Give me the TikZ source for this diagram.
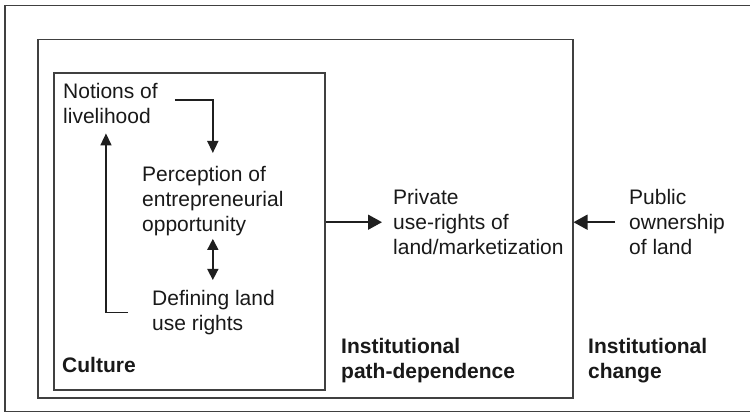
\documentclass[tikz,border=0pt]{standalone}
\usepackage{fontspec}
\setmainfont{Liberation Sans}
\usetikzlibrary{arrows.meta,calc}
\begin{document}
\begin{tikzpicture}[x=1pt,y=-1pt,
  txt/.style={anchor=north west, inner sep=0pt, align=left, text=black!90,
              font=\fontsize{21}{25}\selectfont},
  lbl/.style={txt, font=\fontsize{21}{25}\selectfont\bfseries},
  frame/.style={draw=black!75, line width=1.8pt},
  boxnode/.style={frame, inner sep=0pt, anchor=north west},
  link/.style={draw=black!88, line width=1.5pt},
  tip/.style={-{Triangle[length=12pt,width=11pt]}},
  bothtips/.style={{Triangle[length=11pt,width=11pt]}-{Triangle[length=11pt,width=11pt]}},
  bigtip/.style={-{Triangle[length=14pt,width=15pt]}},
]
\useasboundingbox (0,0) rectangle (750,414);
\fill[white] (0,0) rectangle (750,414);

% outer frame (open to the right)
\draw[frame] (750,5.5) -- (5,5.5) -- (5,411.5) -- (750,411.5);

% nested boxes
\node[boxnode, minimum width=535pt, minimum height=358pt] (pathbox) at (36.7,38.7) {};
\node[boxnode, minimum width=270.7pt, minimum height=317pt] (inner) at (53.3,72) {};

% texts
\node[txt] (notions) at (63,80.5) {\strut Notions of\\livelihood\strut};
\node[txt] (perc) at (142,163.5) {\strut Perception of\\entrepreneurial\\opportunity\strut};
\node[txt] (def) at (152,287.5) {\strut Defining land\\use rights\strut};
\node[lbl] (culture) at (62,354.5) {\strut Culture\strut};
\node[txt] (private) at (393,186.5) {\strut Private\\use-rights of\\land/marketization\strut};
\node[txt] (pub) at (629,186.5) {\strut Public\\ownership\\of land\strut};
\node[lbl] (pathlbl) at (341,335.5) {\strut Institutional\\path-dependence\strut};
\node[lbl] (changelbl) at (588,335.5) {\strut Institutional\\change\strut};

% connectors inside the culture box
\draw[link,tip,shorten >=10.5pt] ($(notions.north east)+(17,19.5)$) -| (perc.north);
\draw[link,bothtips,shorten >=7.5pt] (perc.south) -- (perc.south |- def.north);
\draw[link,tip,shorten <=24pt,shorten >=2.5pt] (def.west) -| ($(notions.south)+(-4.5,0)$);

% connectors between the boxes
\coordinate (ymid) at ([yshift=2pt]private.west);
\draw[link,bigtip,shorten >=11pt] (ymid -| inner.east) -- (ymid);
\draw[link,bigtip,shorten <=14pt] (pub.west |- ymid) -- (ymid -| pathbox.east);
\end{tikzpicture}
\end{document}
